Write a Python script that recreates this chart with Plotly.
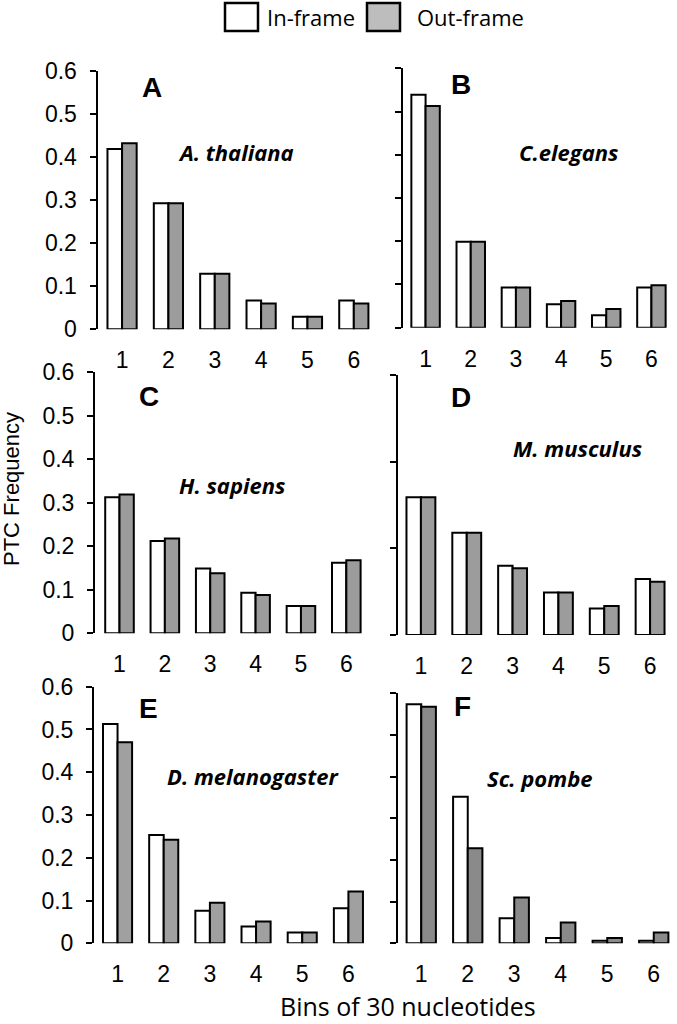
import plotly.graph_objects as go

W, H = 677, 1024

bins = [1, 2, 3, 4, 5, 6]
bin_labels = ["1", "2", "3", "4", "5", "6"]
series_names = ["In-frame", "Out-frame"]

a_in = [0.419, 0.293, 0.129, 0.067, 0.029, 0.067]
a_out = [0.432, 0.293, 0.129, 0.060, 0.029, 0.060]
b_in = [0.539, 0.199, 0.093, 0.054, 0.029, 0.093]
b_out = [0.513, 0.199, 0.093, 0.062, 0.043, 0.098]
c_in = [0.313, 0.212, 0.149, 0.093, 0.063, 0.162]
c_out = [0.319, 0.218, 0.138, 0.088, 0.063, 0.168]
d_in = [0.318, 0.236, 0.160, 0.098, 0.061, 0.129]
d_out = [0.318, 0.236, 0.154, 0.098, 0.067, 0.123]
e_in = [0.513, 0.253, 0.076, 0.039, 0.025, 0.082]
e_out = [0.470, 0.242, 0.095, 0.051, 0.025, 0.121]
f_in = [0.574, 0.352, 0.060, 0.013, 0.006, 0.006]
f_out = [0.568, 0.228, 0.110, 0.050, 0.013, 0.026]

panel_letters = ["A", "B", "C", "D", "E", "F"]
species = ["A. thaliana", "C.elegans", "H. sapiens", "M. musculus",
           "D. melanogaster", "Sc. pombe"]
y_ticks = [0, 0.1, 0.2, 0.3, 0.4, 0.5, 0.6]
y_tick_labels = ["0", "0.1", "0.2", "0.3", "0.4", "0.5", "0.6"]
y_title = "PTC Frequency"
x_title = "Bins of 30 nucleotides"

data_in = [a_in, b_in, c_in, d_in, e_in, f_in]
data_out = [a_out, b_out, c_out, d_out, e_out, f_out]

# layout (pixels)
xdoms = [(97.5, 377, 0.47), (403, 674, 0.5), (95, 369, 0.46),
         (398, 673, 0.5), (94, 371.5, 0.49), (398, 677, 0.5)]
ydoms = [(329.3, 71), (327.7, 68.3), (633.3, 372.3), (635, 375),
         (943.3, 686.7), (943.3, 693.3)]
out_colors = ["#9c9c9c", "#9c9c9c", "#9c9c9c", "#9c9c9c", "#a0a0a0", "#8a8a8a"]
letter_pos = [(152, 87), (461, 84), (149, 396), (461, 397), (148, 708), (462, 706)]
species_pos = [(236, 152), (568, 152), (232, 485), (577, 448), (253, 776), (540, 778)]

def px(x):
    return x / W

def py(y):
    return 1 - y / H

fig = go.Figure()
layout = {}
annotations = []
for i in range(6):
    n = "" if i == 0 else str(i + 1)
    xa, ya = "x" + n, "y" + n
    fig.add_trace(go.Bar(x=bins, y=data_in[i], name=series_names[0],
                         xaxis=xa, yaxis=ya, showlegend=False,
                         marker=dict(color="white", line=dict(color="black", width=2))))
    fig.add_trace(go.Bar(x=bins, y=data_out[i], name=series_names[1],
                         xaxis=xa, yaxis=ya, showlegend=False,
                         marker=dict(color=out_colors[i], line=dict(color="black", width=2))))
    xl, xr, r0 = xdoms[i]
    y0, y6 = ydoms[i]
    left = (i % 2 == 0)
    layout["xaxis" + n] = dict(domain=[px(xl), min(px(xr), 1.0)], range=[r0, 6.5],
                               anchor=ya, tickvals=bins, ticktext=bin_labels,
                               showline=False, showgrid=False, zeroline=False,
                               ticks="", ticklabelstandoff=15, automargin=False,
                               tickfont=dict(family="Liberation Sans, Arial", size=23, color="black"))
    layout["yaxis" + n] = dict(domain=[py(y0), py(y6)], range=[0, 0.6],
                               anchor=xa, showline=True, linecolor="black", linewidth=2,
                               showgrid=False, zeroline=False, automargin=False,
                               ticks="outside", ticklen=6, tickwidth=2, tickcolor="black",
                               tickvals=(y_ticks if i != 3 else y_ticks[::2]),
                               ticktext=(y_tick_labels if i != 3 else y_tick_labels[::2]),
                               showticklabels=left, ticklabelstandoff=8,
                               tickfont=dict(family="Liberation Sans, Arial", size=23, color="black"))
    lx, ly = letter_pos[i]
    annotations.append(dict(text="<b>" + panel_letters[i] + "</b>", x=px(lx), y=py(ly),
                            xref="paper", yref="paper", showarrow=False,
                            xanchor="center", yanchor="middle",
                            font=dict(family="Liberation Sans, Arial", size=28, color="black")))
    sx, sy = species_pos[i]
    annotations.append(dict(text="<b><i>" + species[i] + "</i></b>", x=px(sx), y=py(sy),
                            xref="paper", yref="paper", showarrow=False,
                            xanchor="center", yanchor="middle",
                            font=dict(family="Open Sans", size=22, color="black")))

annotations.append(dict(text=y_title, x=px(11), y=py(489), xref="paper", yref="paper",
                        showarrow=False, textangle=-90, xanchor="center", yanchor="middle",
                        font=dict(family="Liberation Sans, Arial", size=22, color="black")))
annotations.append(dict(text=x_title, x=px(408), y=py(1024), xref="paper", yref="paper",
                        showarrow=False, xanchor="center", yanchor="bottom", borderpad=0,
                        font=dict(family="Open Sans", size=25, color="black")))

# legend (drawn manually to match the large swatches)
shapes = []
leg_boxes = [(225, 258, "white"), (367, 400, "#bdbdbd")]
leg_text_x = [265, 415]
for (x0, x1, col), tx, name in zip(leg_boxes, leg_text_x, series_names):
    shapes.append(dict(type="rect", xref="paper", yref="paper",
                       x0=px(x0), x1=px(x1), y0=py(31), y1=py(3),
                       fillcolor=col, line=dict(color="black", width=2.5)))
    annotations.append(dict(text=name, x=px(tx), y=py(17), xref="paper", yref="paper",
                            showarrow=False, xanchor="left", yanchor="middle",
                            font=dict(family="Open Sans", size=22, color="black")))

fig.update_layout(**layout)
fig.update_layout(width=W, height=H,
                  margin=dict(l=0, r=0, t=0, b=0, pad=0, autoexpand=False),
                  paper_bgcolor="white", plot_bgcolor="white",
                  barmode="group", bargap=0.37, bargroupgap=0,
                  annotations=annotations, shapes=shapes, showlegend=False)

fig.write_html("out.html", config={"displayModeBar": False},
               post_script="document.body.style.margin='0';")
